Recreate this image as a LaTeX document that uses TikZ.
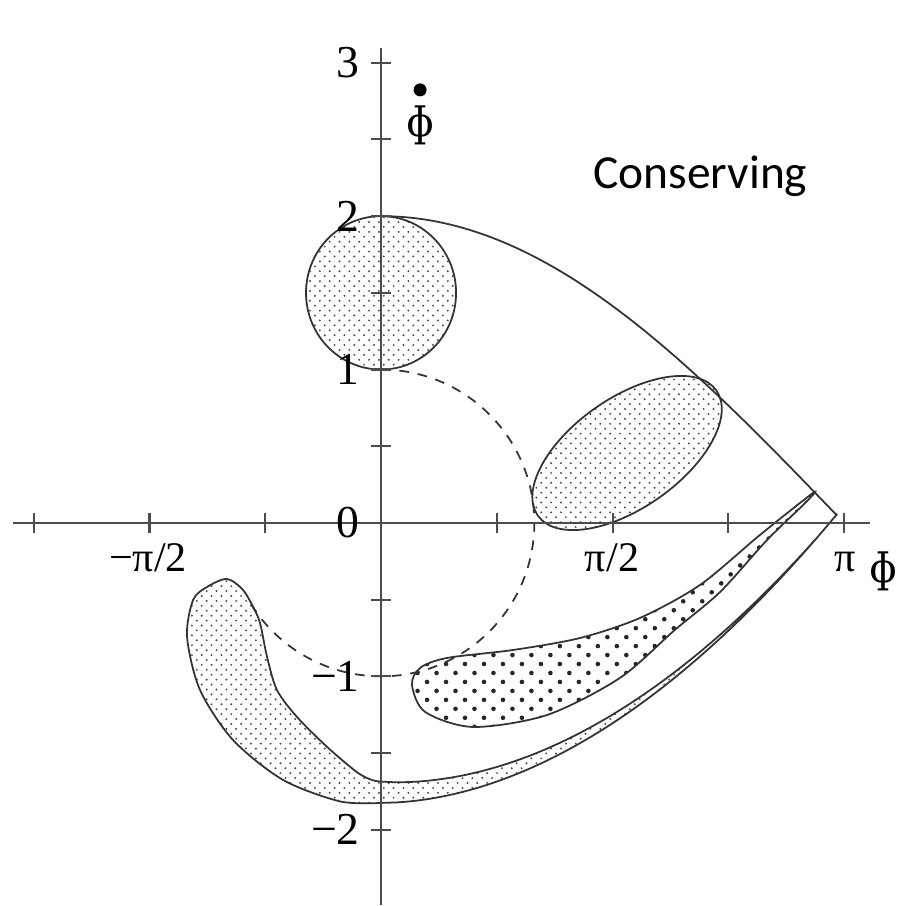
\documentclass[tikz,border=0pt]{standalone}
\usepackage{fontspec}
\setmainfont{Liberation Serif}
\newfontfamily\carlito{Carlito}
\newfontfamily\phifont{DejaVu Serif}
\usetikzlibrary{patterns.meta}

\tikzdeclarepattern{
  name=finedots, type=uncolored,
  bottom left={(-1pt,-1pt)}, top right={(4pt,4pt)},
  tile size={(5.6pt,5.6pt)},
  code={\fill (0pt,0pt) circle (0.62pt) (2.8pt,2.8pt) circle (0.62pt);}
}
\tikzdeclarepattern{
  name=coarsedots, type=uncolored,
  bottom left={(-1.5pt,-1.5pt)}, top right={(7pt,7pt)},
  tile size={(10.8pt,10.2pt)},
  code={\fill (0pt,0pt) circle (1.3pt) (5.4pt,5.1pt) circle (1.3pt);}
}

\tikzset{
  region/.style={draw=black!80, line width=1pt},
  sepline/.style={black!80, line width=1pt},
  axisline/.style={black!70, line width=1.2pt},
  ylab/.style={anchor=east, inner sep=0pt, xshift=-0.42cm, font=\fontsize{26}{30}\selectfont},
  xlab/.style={anchor=base, inner sep=0pt, font=\fontsize{24}{28}\selectfont}
}

\begin{document}
\begin{tikzpicture}[x=2.948cm,y=3.068cm]
\useasboundingbox[fill=white] (-2.585,-2.497) rectangle (3.501,3.409);

% shaded regions
\filldraw[region, pattern=finedots, pattern color=black!70] (0,1.5) ellipse [x radius=0.509, y radius=0.5];
\filldraw[region, pattern=finedots, pattern color=black!70, rotate around={35:(1.669,0.456)}]
  (1.669,0.456) ellipse [x radius=2.18cm, y radius=1.1cm];
\filldraw[region, pattern=coarsedots, pattern color=black!85] plot[smooth cycle] coordinates {
  (2.931,0.196) (2.571,-0.078) (2.164,-0.404) (1.757,-0.619) (1.350,-0.750) (0.896,-0.828)
  (0.448,-0.880) (0.265,-0.945) (0.210,-1.056) (0.299,-1.232) (0.624,-1.330) (1.126,-1.252)
  (1.621,-1.010) (1.990,-0.700) (2.300,-0.450) (2.619,-0.111) (2.877,0.130)};
% lower branch, tail and thin band
\filldraw[region, pattern=finedots, pattern color=black!70]
  plot[domain=3.094:0.1, samples=60] (\x,{-1.825+0.2203*pow(\x,1.9)})
  -- plot[smooth] coordinates {
  (0,-1.825) (-0.278,-1.815) (-0.665,-1.675) (-1.004,-1.415) (-1.228,-1.089) (-1.316,-0.743)
  (-1.275,-0.502) (-1.180,-0.417) (-1.045,-0.365) (-0.936,-0.437) (-0.868,-0.548) (-0.821,-0.652)
  (-0.773,-0.874) (-0.706,-1.089) (-0.570,-1.265) (-0.366,-1.460) (-0.163,-1.625) (-0.06,-1.676)
  (0,-1.686)}
  -- plot[domain=0.1:2.95, samples=60] (\x,{-1.825+0.2203*pow(\x,1.9)+0.137*pow(1-\x/3,1.2)});

% separatrix and dashed orbit
\draw[sepline] plot[domain=0:3.094, samples=80] (\x,{2*cos(\x r/2)});
\draw[sepline, dash pattern=on 5.5pt off 5pt] (0,1) arc[start angle=90, end angle=-148, x radius=1.04, y radius=1];

% axes
\draw[axisline] (-2.497,0) -- (3.318,0);
\draw[axisline] (0,-2.49) -- (0,3.097);
\foreach \k in {-3,-2,-1,1,2,3,4}
  \draw[axisline] ({\k*pi/4},0) ++(0,-0.2cm) -- ++(0,0.4cm);
\foreach \v in {-2,-1.5,-1,-0.5,0.5,1,1.5,2,2.5,3}
  \draw[axisline] (0,\v) ++(-0.2cm,0) -- ++(0.4cm,0);

% labels
\node[ylab] (y3) at (0,3) {3};
\node[ylab] (y2) at (0,2) {2};
\node[ylab] (y1) at (0,1) {1};
\node[ylab] (y0) at (0,0) {0};
\node[ylab] (ym1) at (0,-1) {−1};
\node[ylab] (ym2) at (0,-2) {−2};
\node[xlab] (xm) at (-1.581,-0.319) {−π/2};
\node[xlab] (xp) at (1.567,-0.319) {π/2};
\node[xlab] (xpi) at (3.148,-0.319) {π};
\node[font=\phifont\fontsize{23}{28}\selectfont, inner sep=0pt] (phi) at (3.406,-0.313) {ɸ};
\node[font=\phifont\fontsize{23}{28}\selectfont, inner sep=0pt] (phidot) at (0.265,2.595) {ɸ};
\fill ([yshift=0.70cm]phidot.center) circle (0.13cm);
\node[anchor=base west, inner sep=0pt, font=\carlito\fontsize{27}{32}\selectfont] (cons) at (1.438,2.177) {Conserving};
\end{tikzpicture}
\end{document}
